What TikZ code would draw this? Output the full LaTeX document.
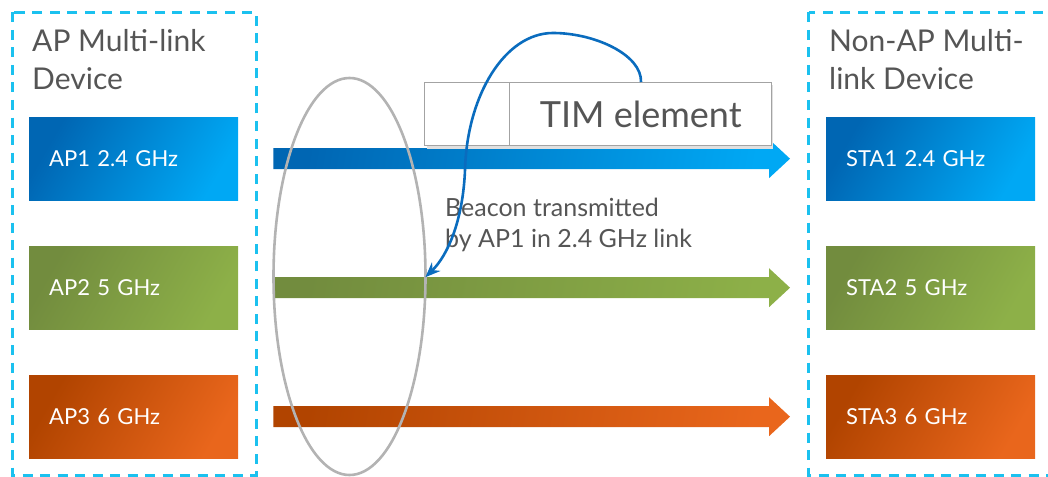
\documentclass[tikz,border=0pt]{standalone}
\usepackage{fontspec}
\setmainfont{Lato}
\usetikzlibrary{arrows.meta,calc}
\definecolor{dashcyan}{HTML}{1BC1EF}
\definecolor{bluedark}{HTML}{0066B3}
\definecolor{bluelight}{HTML}{00A8F4}
\definecolor{greendark}{HTML}{728C3E}
\definecolor{greenlight}{HTML}{8DB048}
\definecolor{orangedark}{HTML}{B14400}
\definecolor{orangelight}{HTML}{E9661C}
\definecolor{txtgray}{HTML}{555555}
\definecolor{ellgray}{HTML}{B3B3B3}
\definecolor{curveblue}{HTML}{0A6CBE}
\definecolor{timgray}{HTML}{A3A3A3}
\newcommand{\radioarrow}[4]{%
  \shade[left color=#3, right color=#4, shading angle=80]
    ($(#1)+(0,-10.5)$) -- ($(#2)+(-21,-10.5)$) -- ($(#2)+(-21,-19.5)$) -- (#2)
    -- ($(#2)+(-21,19.5)$) -- ($(#2)+(-21,10.5)$) -- ($(#1)+(0,10.5)$) -- cycle;}
\begin{document}
\begin{tikzpicture}[x=1pt,y=-1pt,
  devbox/.style={draw=dashcyan, line width=3pt, dash pattern=on 10pt off 7.5pt},
  title/.style={anchor=base west, inner sep=0pt, text=txtgray, font=\fontsize{30}{36}\selectfont},
  radio/.style={anchor=north west, minimum height=83pt, text width=169pt, inner xsep=20pt, inner ysep=0pt,
    align=left, text=white, font=\fontsize{22}{26}\selectfont},
  bluebox/.style={radio, left color=bluedark, right color=bluelight, shading angle=60},
  greenbox/.style={radio, left color=greendark, right color=greenlight, shading angle=60},
  orangebox/.style={radio, left color=orangedark, right color=orangelight, shading angle=60},
  timcell/.style={anchor=north west, draw=timgray, line width=1.4pt, fill=white, minimum height=63pt, inner sep=0pt},
  note/.style={anchor=base west, inner sep=0pt, text=txtgray, font=\fontsize{25}{30}\selectfont}
]
\useasboundingbox (0,0) rectangle (1048,476);

% device frames
\draw[devbox] (12.5,12.5) rectangle (256,475);
\draw[devbox] (808.5,12.5) rectangle (1058,475);

% titles
\node[title] (ta1) at (32,52) {AP Multi-link};
\node[title] (ta2) at (32,90) {Device};
\node[title] (tb1) at (829,52) {Non-AP Multi-};
\node[title] (tb2) at (829,90) {link Device};

% radio boxes
\node[bluebox]   (ap1)  at (29,117) {AP1 2.4 GHz};
\node[greenbox]  (ap2)  at (29,246) {AP2 5 GHz};
\node[orangebox] (ap3)  at (29,375) {AP3 6 GHz};
\node[bluebox]   (sta1) at (826,117) {STA1 2.4 GHz};
\node[greenbox]  (sta2) at (826,246) {STA2 5 GHz};
\node[orangebox] (sta3) at (826,375) {STA3 6 GHz};

% link arrows
\coordinate (s1) at ($(ap1.east)+(35,0)$);
\coordinate (e1) at ($(sta1.west)+(-36,0)$);
\coordinate (s2) at ($(ap2.east)+(35,0)$);
\coordinate (e2) at ($(sta2.west)+(-36,0)$);
\coordinate (s3) at ($(ap3.east)+(35,0)$);
\coordinate (e3) at ($(sta3.west)+(-36,0)$);
\radioarrow{s1}{e1}{bluedark}{bluelight}
\radioarrow{s2}{e2}{greendark}{greenlight}
\radioarrow{s3}{e3}{orangedark}{orangelight}

% TIM element frame
\fill[black!12] (427,85) rectangle (773,149);
\node[timcell, minimum width=85pt] (timhead) at (424,82) {};
\node[timcell, minimum width=262pt, font=\fontsize{36}{40}\selectfont, text=txtgray] (timel) at (509,82) {TIM element};

% beacon note
\node[note] (bn1) at (445,216) {Beacon transmitted};
\node[note] (bn2) at (445,247) {by AP1 in 2.4 GHz link};

% grouping ellipse
\draw[ellgray, line width=2.6pt] (349.5,276.5) ellipse [x radius=76, y radius=198.5];

% TIM to AP2 link pointer
\coordinate (cstart) at ($(timel.north west)+(132,0)$);
\coordinate (cend) at ($(s2)+(152,-10.5)$);
\draw[curveblue, line width=2.6pt, -{Stealth[length=15pt,width=12pt]}]
  (cstart) .. controls (642,55) and (595,33) .. (553,33)
  .. controls (505,33) and (467,95) .. (465,170)
  .. controls (463,220) and (448,255) .. (cend);
\end{tikzpicture}
\end{document}
